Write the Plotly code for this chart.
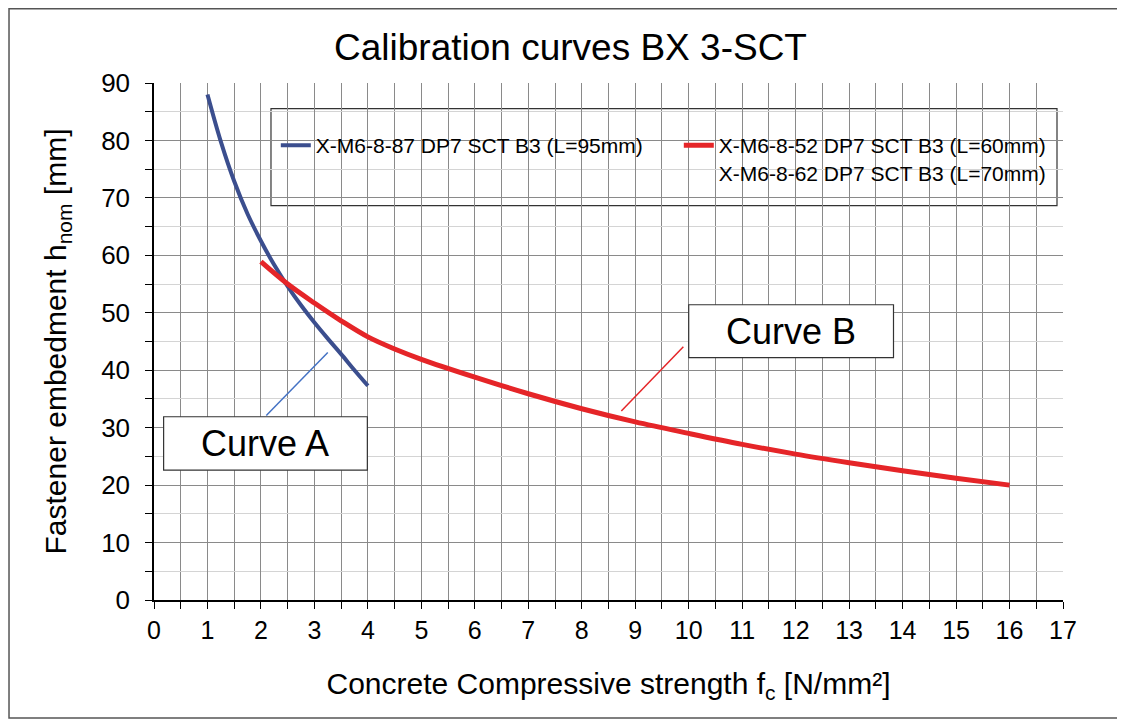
import plotly.graph_objects as go

# ---- data ----
curve_a_x = [1.0, 1.25, 1.5, 1.75, 2.0, 2.25, 2.5, 2.75, 3.0, 3.25, 3.5, 3.75, 4.0]
curve_a_y = [88.0, 79.8, 72.9, 67.2, 62.5, 58.3, 54.6, 51.3, 48.3, 45.5, 42.8, 40.0, 37.3]
curve_a_name = "X-M6-8-87 DP7 SCT B3 (L=95mm)"

curve_b_x = [2.0, 2.5, 3.0, 3.5, 4.0, 4.5, 5.0, 6.0, 7.0, 8.0, 9.0, 10.0, 11.0, 12.0, 13.0, 14.0, 15.0, 16.0]
curve_b_y = [58.9, 55.0, 51.7, 48.6, 45.8, 43.7, 41.9, 38.8, 35.9, 33.3, 31.0, 29.0, 27.1, 25.4, 23.9, 22.5, 21.2, 20.0]
curve_b_name = "X-M6-8-52 DP7 SCT B3 (L=60mm)<br>X-M6-8-62 DP7 SCT B3 (L=70mm)"

x_ticks = list(range(0, 18))
y_ticks = list(range(0, 100, 10))

title_text = "Calibration curves BX 3-SCT"
x_title = "Concrete Compressive strength f<sub>c</sub> [N/mm²]"
y_title = "Fastener embedment h<sub>nom</sub> [mm]"

FONT = "Arial, Liberation Sans, sans-serif"
BLUE = "#3B4E8E"
RED = "#E52528"

fig = go.Figure()
fig.add_trace(go.Scatter(x=curve_a_x, y=curve_a_y, mode="lines", name=curve_a_name,
                         line=dict(color=BLUE, width=4, shape="spline")))
fig.add_trace(go.Scatter(x=curve_b_x, y=curve_b_y, mode="lines", name=curve_b_name,
                         line=dict(color=RED, width=5, shape="spline")))

fig.update_layout(
    width=1125, height=722,
    margin=dict(l=146, r=70, t=75, b=130),
    paper_bgcolor="white", plot_bgcolor="white",
    font=dict(family=FONT, color="black"),
    title=dict(text=title_text, x=0.5, xref="container", y=0.946, yref="container",
               xanchor="center", yanchor="middle", font=dict(size=37, family=FONT, color="black")),
    showlegend=True,
    legend=dict(orientation="h", x=0.134, xanchor="left", y=0.9185, yanchor="top",
                bgcolor="rgba(0,0,0,0)", borderwidth=0, valign="top",
                font=dict(size=21, family=FONT, color="black"), itemwidth=30,
                entrywidth=358, tracegroupgap=0),
)

fig.update_xaxes(range=[0, 17], tickvals=x_ticks, ticktext=[str(v) for v in x_ticks],
                 showgrid=True, gridcolor="#8a8a8a", gridwidth=1.3,
                 minor=dict(dtick=0.5, tick0=0, showgrid=True, gridcolor="#8a8a8a", gridwidth=1.3,
                            ticks="outside", ticklen=7, tickcolor="black"),
                 ticks="outside", ticklen=7, tickcolor="black", tickwidth=1.2,
                 showline=True, linecolor="black", linewidth=1.5, zeroline=False,
                 tickfont=dict(size=25, family=FONT, color="black"),
                 title=dict(text=x_title, font=dict(size=30, family=FONT, color="black"), standoff=30))
fig.update_yaxes(range=[0, 90], tickvals=y_ticks, ticktext=[str(v) for v in y_ticks],
                 showgrid=True, gridcolor="#8a8a8a", gridwidth=1.3,
                 minor=dict(dtick=5, tick0=0, showgrid=True, gridcolor="#d4d4d4", gridwidth=1.3,
                            ticks="outside", ticklen=7, tickcolor="black"),
                 ticks="outside", ticklen=7, tickcolor="black", tickwidth=1.2,
                 ticklabelstandoff=10,
                 showline=True, linecolor="black", linewidth=1.5, zeroline=False,
                 tickfont=dict(size=26, family=FONT, color="black"),
                 title=dict(text=y_title, font=dict(size=30, family=FONT, color="black"), standoff=26))

# outer frame of the figure
fig.add_shape(type="rect", xref="paper", yref="paper", x0=-0.1595, x1=1.0605, y0=-0.228, y1=1.1435,
              line=dict(color="#555555", width=1.5), fillcolor="rgba(0,0,0,0)", layer="above")
# legend box
fig.add_shape(type="rect", xref="paper", yref="paper", x0=0.1287, x1=0.9934, y0=0.7627, y1=0.9503,
              line=dict(color="#333333", width=1.2), fillcolor="white", layer="between")

# callout boxes and leader lines
fig.add_shape(type="rect", x0=0.18, x1=3.99, y0=22.6, y1=31.9, xref="x", yref="y",
              line=dict(color="#333333", width=1.2), fillcolor="white", layer="above")
fig.add_shape(type="line", x0=2.10, y0=32.1, x1=3.25, y1=43.1, xref="x", yref="y",
              line=dict(color="#4472C4", width=1.5), layer="above")
fig.add_annotation(x=2.085, y=27.25, xref="x", yref="y", text="Curve A", showarrow=False,
                   font=dict(size=36, family=FONT, color="black"))

fig.add_shape(type="rect", x0=10.0, x1=13.83, y0=42.2, y1=51.4, xref="x", yref="y",
              line=dict(color="#333333", width=1.2), fillcolor="white", layer="above")
fig.add_shape(type="line", x0=9.90, y0=44.1, x1=8.74, y1=32.9, xref="x", yref="y",
              line=dict(color="#E52528", width=1.5), layer="above")
fig.add_annotation(x=11.915, y=46.8, xref="x", yref="y", text="Curve B", showarrow=False,
                   font=dict(size=36, family=FONT, color="black"))

fig.write_html("out.html")
